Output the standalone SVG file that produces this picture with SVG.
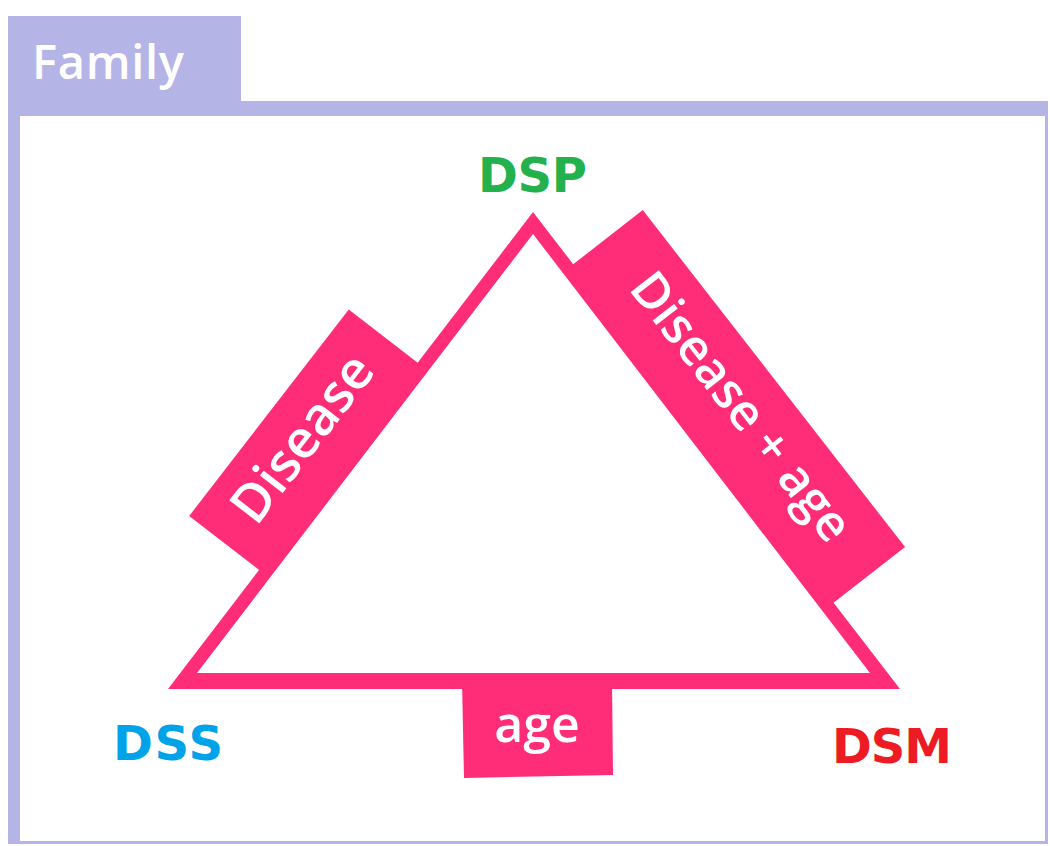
<svg xmlns="http://www.w3.org/2000/svg" width="1050" height="846" viewBox="0 0 1050 846">
<style>
.frame{fill:#b4b4e6}
.pink{fill:#ff2d78}
.lbl{font-family:"Open Sans","Noto Sans",sans-serif;font-weight:600;fill:#ffffff;text-anchor:middle}
.node{font-family:"DejaVu Sans","Liberation Sans",sans-serif;font-weight:bold;font-size:48px}
</style>
<rect width="1050" height="846" fill="#ffffff"/>
<g id="frame">
<rect class="frame" x="8" y="16" width="233" height="86"/>
<path class="frame" fill-rule="evenodd" d="M8,101 H1048 V844 H8 Z M20,116 V841 H1045 V116 Z"/>
<text x="32" y="79" font-family="Open Sans, Noto Sans, sans-serif" font-weight="600" font-size="47" fill="#ffffff" textLength="152">Family</text>
</g>
<g id="connectors">
<path class="pink" fill-rule="evenodd" d="M533,212 L900,689 L168,689 Z M533,234 L197,673 L870,673 Z"/>
</g>
<g id="edge-disease">
<g transform="translate(303,439) rotate(-52.3)">
<rect class="pink" x="-130.5" y="-43" width="261" height="94"/>
<text class="lbl" x="0" y="17" font-size="53">Disease</text>
</g>
</g>
<g id="edge-disease-age">
<g transform="translate(740,405) rotate(52.1)">
<rect class="pink" x="-213.5" y="-43" width="427" height="94"/>
<text class="lbl" x="2" y="17" font-size="50">Disease + age</text>
</g>
</g>
<g id="edge-age">
<polygon class="pink" points="462,680 612,680 613,775 464,778"/>
<text class="lbl" x="537" y="742" font-size="50">age</text>
</g>
<g id="node-dsp">
<text class="node" x="478" y="192" fill="#22b14c" textLength="109">DSP</text>
</g>
<g id="node-dss">
<text class="node" x="113" y="760" fill="#00a2e8" textLength="110">DSS</text>
</g>
<g id="node-dsm">
<text class="node" x="832" y="763" fill="#ed1c24" textLength="120">DSM</text>
</g>
</svg>
